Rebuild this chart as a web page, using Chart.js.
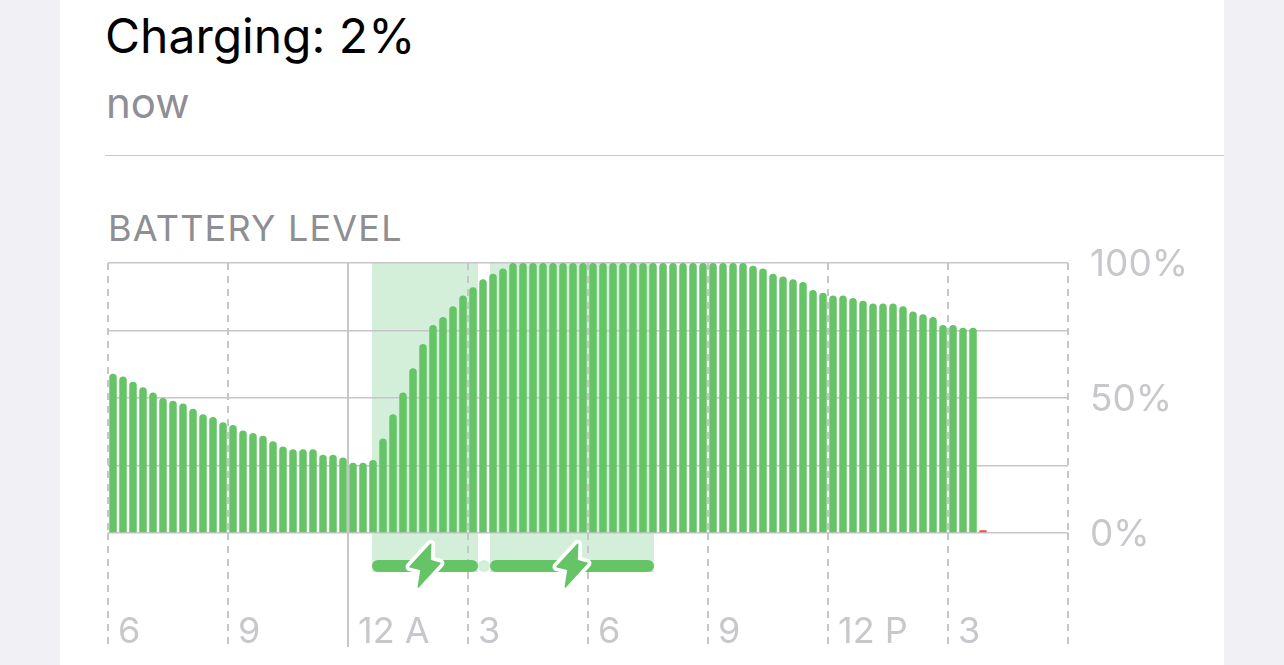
<!DOCTYPE html>
<html>
<head>
<meta charset="utf-8">
<script src="https://cdn.jsdelivr.net/npm/chart.js@4"></script>
<style>
  html, body { margin: 0; padding: 0; width: 1284px; height: 665px; overflow: hidden; background: #f0f0f5; }
  #card { position: absolute; left: 60px; top: 0; width: 1164px; height: 665px; background: #fff; }
  #trendChart { position: absolute; left: 0; top: 0; }
  .txt { position: absolute; font-family: Inter, sans-serif; white-space: nowrap; line-height: 1; }
  #title { left: 105px; top: 12px; font-size: 48px; color: #000; }
  #sub { left: 106px; top: 82px; font-size: 42px; color: #8e8e93; }
  #rule { position: absolute; left: 105px; top: 155px; width: 1119px; height: 1px; background: #c8c8cc; }
  #section { left: 108px; top: 210px; font-size: 36px; letter-spacing: 1.2px; color: #8e8e93; }
</style>
</head>
<body>
<div id="card"></div>
<div class="txt" id="title">Charging: 2%</div>
<div class="txt" id="sub">now</div>
<div id="rule"></div>
<div class="txt" id="section">BATTERY LEVEL</div>
<canvas id="trendChart" width="1284" height="665"></canvas>
<script>
// --- Data ---
const levels = [
  59, 58, 56, 54, 52, 50, 49, 48, 46, 44, 43, 41, 40, 38, 37, 36, 34, 32, 31, 31, 31, 29, 29, 28, 26, 26, 27,
  35, 44, 52, 61, 70, 77, 80, 84, 88, 91, 94, 96, 98,
  100, 100, 100, 100, 100, 100, 100, 100, 100, 100, 100, 100, 100, 100, 100, 100, 100, 100, 100, 100, 100, 100, 100, 100,
  99, 98, 96, 95, 94, 93, 90, 89, 88, 88, 87, 86, 85, 85, 85, 84, 82, 81, 80, 77, 77, 76, 76,
  1
];
const hourLabels = ['6', '9', '12 A', '3', '6', '9', '12 P', '3', ''];
const percentLabels = { 0: '0%', 50: '50%', 100: '100%' };
const chargeStart = [26.4, 38.2];
const chargeEnd = [37, 54.6];

const GREEN = '#65c466';
const SHADE = '#d4efd9';
const GRID = '#c6c6c9';
const LABEL = '#c7c7cc';

const bolt = new Path2D('M5.7 -21.7 L-15 0.7 L-4 3.5 L-6.7 21 L15 -2.7 L5 -5.5 Z');

function pill(c, x1, x2, y, h) {
  c.beginPath();
  c.roundRect(x1, y, x2 - x1, h, h / 2);
  c.fill();
}

// --- Charging shading, strip and bolts ---
const chargingPlugin = {
  id: 'charging',
  beforeDraw(chart) {
    const { x, y } = chart.scales;
    const c = chart.ctx;
    c.save();
    c.fillStyle = SHADE;
    chargeStart.forEach((s, i) => {
      c.fillRect(x.getPixelForValue(s), y.getPixelForValue(100), x.getPixelForValue(chargeEnd[i]) - x.getPixelForValue(s), y.getPixelForValue(0) + 39 - y.getPixelForValue(100));
    });
    c.restore();
  },
  afterDraw(chart) {
    const { x, y } = chart.scales;
    const c = chart.ctx;
    const y0 = y.getPixelForValue(0);
    c.save();
    c.fillStyle = SHADE;
    c.beginPath();
    c.arc(x.getPixelForValue((chargeEnd[0] + chargeStart[1]) / 2), y0 + 33, 6, 0, Math.PI * 2);
    c.fill();
    chargeStart.forEach((s, i) => {
      c.fillStyle = GREEN;
      pill(c, x.getPixelForValue(s), x.getPixelForValue(chargeEnd[i]), y0 + 27, 12);
      c.save();
      c.translate(x.getPixelForValue((s + chargeEnd[i]) / 2), y0 + 33);
      c.lineJoin = 'round';
      c.strokeStyle = '#fff';
      c.lineWidth = 9;
      c.stroke(bolt);
      c.lineWidth = 1.5;
      c.strokeStyle = GREEN;
      c.stroke(bolt);
      c.fill(bolt);
      c.restore();
    });
    c.restore();
  }
};

const xDash = c => (c.index === 2 ? [] : [7, 6]);

// --- Chart ---
new Chart(document.getElementById('trendChart'), {
  type: 'bar',
  data: {
    datasets: [{
      data: levels.map((v, i) => ({ x: i + 0.5, y: v })),
      backgroundColor: c => (c.raw && c.raw.y <= 20 ? '#f0503c' : GREEN),
      barThickness: 7.5,
      inflateAmount: 0,
      borderRadius: { topLeft: 3.75, topRight: 3.75, bottomLeft: 0, bottomRight: 0 },
      borderSkipped: false
    }]
  },
  plugins: [chargingPlugin],
  options: {
    responsive: false,
    animation: false,
    layout: { padding: { left: 108, top: 263, right: 0, bottom: 0 } },
    plugins: { legend: { display: false }, tooltip: { enabled: false } },
    scales: {
      x: {
        type: 'linear',
        offset: false,
        min: 0,
        max: 96,
        border: { display: false, dash: xDash },
        grid: { offset: false, color: GRID, lineWidth: 2, drawTicks: true, tickLength: 114, tickBorderDash: xDash },
        ticks: {
          stepSize: 12,
          autoSkip: false,
          maxRotation: 0,
          align: 'start',
          labelOffset: 10,
          padding: -36,
          color: LABEL,
          font: { family: 'Inter', size: 36 },
          callback: (v) => hourLabels[v / 12]
        },
        afterFit(scale) {
          scale.height = 132;
          scale.paddingLeft = 0;
          scale.paddingRight = 0;
        }
      },
      y: {
        position: 'right',
        min: 0,
        max: 100,
        border: { display: false },
        grid: { color: GRID, lineWidth: 1.5, drawTicks: false },
        ticks: {
          stepSize: 25,
          autoSkip: false,
          padding: 22,
          labelOffset: 2,
          color: LABEL,
          font: { family: 'Inter', size: 37 },
          callback: (v) => percentLabels[v] || ''
        },
        afterFit(scale) {
          scale.width = 216;
          scale.paddingTop = 0;
          scale.paddingBottom = 0;
        }
      }
    }
  }
});
</script>
</body>
</html>
